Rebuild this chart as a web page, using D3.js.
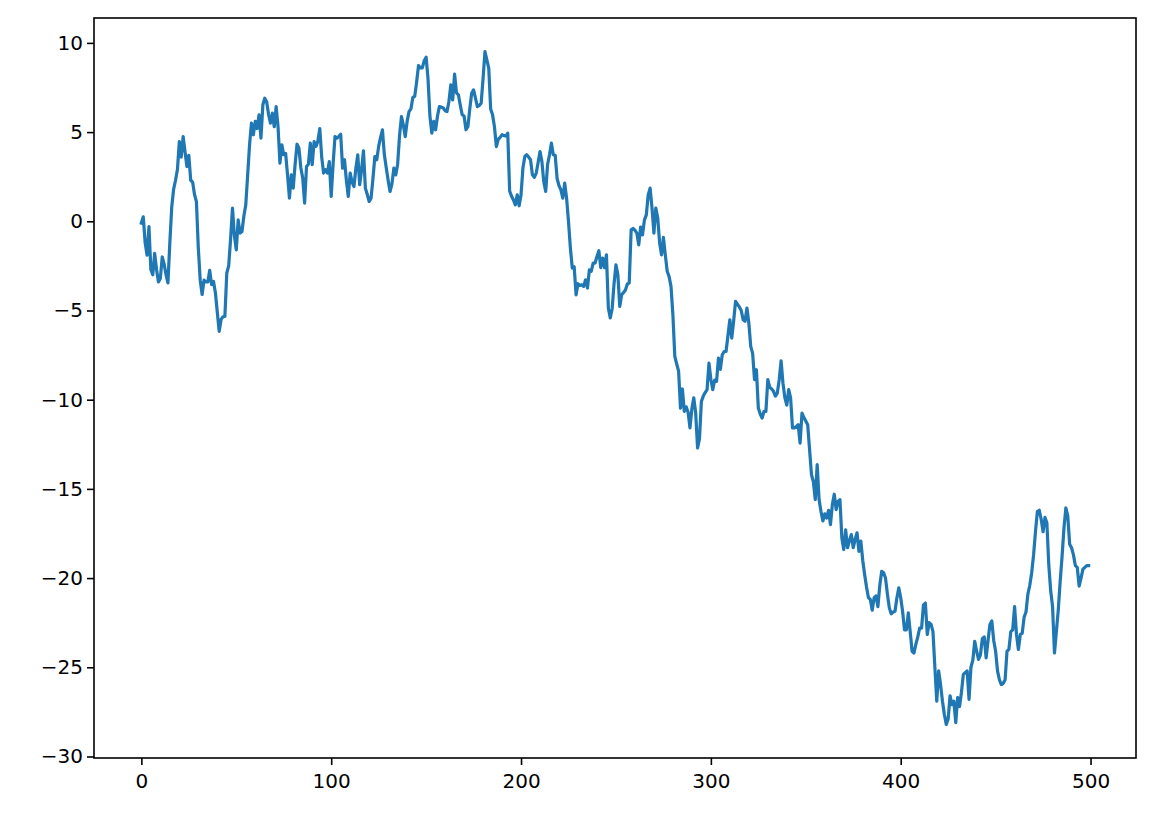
<!DOCTYPE html>
<html>
<head>
<meta charset="utf-8">
<script src="https://cdn.jsdelivr.net/npm/d3@7"></script>
<style>
  body { margin: 0; background: #fff; }
  svg { display: block; }
  .tick text { font-family: "DejaVu Sans", sans-serif; font-size: 20px; fill: #000; }
</style>
</head>
<body>
<div id="chart"></div>
<script>
// random walk values (index 0..499)
const walk = [
  -0.1, 0.25, -1.2, -1.9, -0.3, -2.7, -3.0, -1.8, -2.7, -3.4,
  -3.2, -2.0, -2.4, -3.0, -3.45, -1.2, 0.8, 1.8, 2.3, 2.9,
  4.47, 3.6, 4.75, 3.9, 3.07, 3.7, 2.3, 2.2, 1.5, 1.1,
  -1.5, -3.3, -4.1, -3.3, -3.4, -3.4, -2.75, -3.55, -3.37, -4.0,
  -5.1, -6.17, -5.5, -5.35, -5.33, -2.9, -2.5, -1.0, 0.74, -0.8,
  -1.6, 0.08, -0.66, -0.57, 0.3, 0.92, 2.6, 4.3, 5.5, 4.85,
  5.6, 5.2, 5.97, 4.66, 6.53, 6.9, 6.7, 6.0, 5.5, 6.06,
  5.3, 6.43, 5.3, 3.26, 4.29, 3.73, 3.8, 2.6, 1.3, 2.6,
  1.86, 3.2, 4.32, 4.1, 3.0, 2.42, 1.02, 3.07, 3.2, 4.38,
  3.17, 4.47, 4.2, 4.5, 5.2, 3.6, 2.7, 2.9, 2.7, 3.35,
  1.39, 3.2, 4.75, 4.66, 4.75, 4.88, 2.98, 3.45, 2.3, 1.39,
  2.7, 2.2, 1.95, 2.98, 3.73, 2.05, 2.9, 3.95, 1.86, 1.5,
  1.11, 1.3, 2.4, 3.63, 3.45, 4.2, 4.7, 5.13, 3.73, 3.0,
  2.3, 1.67, 2.1, 2.98, 2.6, 3.2, 4.8, 5.87, 5.4, 4.75,
  5.6, 6.15, 6.3, 6.94, 7.0, 7.8, 8.73, 8.6, 8.6, 9.0,
  9.2, 8.0, 5.9, 4.94, 5.6, 5.13, 5.9, 6.43, 6.4, 6.35,
  6.2, 6.15, 6.7, 7.65, 6.8, 8.25, 7.2, 7.09, 6.5, 5.97,
  5.9, 5.13, 5.3, 6.3, 7.18, 7.37, 6.9, 6.43, 6.5, 6.62,
  8.0, 9.51, 9.05, 8.58, 6.3, 5.97, 5.3, 4.19, 4.6, 4.7,
  4.85, 4.8, 4.78, 4.94, 1.7, 1.4, 1.2, 0.92, 1.48, 0.87,
  1.48, 3.0, 3.63, 3.73, 3.6, 3.45, 2.6, 2.46, 2.7, 3.3,
  3.91, 3.35, 2.2, 1.67, 3.2, 3.73, 4.38, 3.73, 3.7, 2.4,
  2.0, 1.76, 1.3, 2.14, 1.3, 0.0, -1.5, -2.62, -2.55, -4.12,
  -3.5, -3.6, -3.56, -3.65, -3.28, -3.74, -2.72, -2.8, -2.34, -2.34,
  -1.97, -1.65, -2.6, -2.06, -2.6, -1.88, -4.86, -5.42, -4.9, -3.5,
  -2.44, -2.98, -4.77, -4.12, -4.0, -3.85, -3.52, -3.45, -0.48, -0.4,
  -0.5, -0.66, -1.32, -0.32, -0.76, 0.08, 0.36, 1.48, 1.86, 0.74,
  -0.66, 0.74, 0.2, -1.2, -1.88, -0.9, -1.88, -2.8, -3.1, -3.65,
  -5.24, -7.57, -8.0, -8.4, -10.47, -9.4, -10.65, -10.4, -10.7, -11.58,
  -10.5, -9.9, -10.75, -12.7, -12.2, -10.1, -9.8, -9.6, -9.44, -7.95,
  -8.85, -9.44, -8.9, -8.97, -7.67, -8.3, -7.48, -7.3, -7.3, -6.4,
  -5.52, -6.55, -5.6, -4.49, -4.65, -4.8, -5.0, -5.52, -5.6, -4.86,
  -5.7, -7.01, -7.4, -8.88, -8.32, -10.47, -10.8, -11.03, -10.65, -10.65,
  -8.88, -9.3, -9.4, -9.53, -9.8, -9.63, -8.88, -7.82, -9.1, -9.9,
  -10.3, -9.44, -9.9, -11.58, -11.58, -11.5, -11.4, -12.43, -10.75, -11.0,
  -11.2, -11.4, -12.8, -14.2, -14.6, -15.6, -13.64, -15.6, -16.26, -16.8,
  -16.4, -16.63, -16.2, -17.0, -15.88, -15.3, -16.16, -15.7, -15.6, -17.75,
  -18.4, -17.3, -18.3, -17.9, -17.56, -18.3, -17.84, -17.46, -18.5, -17.93,
  -19.0, -19.8, -20.5, -21.1, -21.2, -21.8, -21.1, -21.0, -21.6, -20.4,
  -19.62, -19.7, -20.0, -20.9, -21.67, -22.0, -21.9, -21.86, -21.1, -20.55,
  -21.1, -21.86, -22.9, -22.9, -21.95, -23.0, -24.1, -24.2, -23.7, -23.3,
  -22.8, -22.8, -21.5, -21.4, -23.16, -22.5, -22.6, -23.0, -25.0, -26.9,
  -25.2, -25.97, -26.9, -27.65, -28.2, -27.9, -26.6, -27.1, -26.9, -28.1,
  -26.7, -27.2, -26.4, -25.4, -25.3, -25.2, -26.8, -25.0, -24.6, -23.54,
  -24.1, -24.56, -24.3, -23.4, -23.3, -24.47, -23.5, -22.6, -22.4, -23.5,
  -24.1, -25.2, -25.7, -25.97, -25.9, -25.7, -24.1, -24.0, -23.0, -22.9,
  -21.6, -23.16, -24.0, -23.16, -23.1, -22.2, -21.9, -20.9, -20.4, -19.7,
  -18.7, -17.4, -16.26, -16.2, -16.7, -17.4, -16.6, -16.9, -19.25, -20.7,
  -21.6, -24.2, -23.0, -21.8, -20.2, -18.8, -17.2, -16.07, -16.5, -18.1,
  -18.3, -18.7, -19.3, -19.4, -20.45, -20.0, -19.5, -19.4, -19.3, -19.3
];
const xTicks = [0, 100, 200, 300, 400, 500];
const yTicks = [-30, -25, -20, -15, -10, -5, 0, 5, 10];

const width = 1154;
const height = 822;
const plot = {left: 94, right: 1136, top: 18, bottom: 758};

const svg = d3.select("#chart")
  .append("svg")
  .attr("width", width)
  .attr("height", height);

// matplotlib style 5% margins around the data
const n = walk.length;
const xPad = (n - 1) * 0.05;
const yMin = d3.min(walk), yMax = d3.max(walk);
const yPad = (yMax - yMin) * 0.05;

const x = d3.scaleLinear()
  .domain([-xPad, n - 1 + xPad])
  .range([plot.left, plot.right]);
const y = d3.scaleLinear()
  .domain([yMin - yPad, yMax + yPad])
  .range([plot.bottom, plot.top]);

const line = d3.line()
  .x((d, i) => x(i))
  .y(d => y(d));

svg.append("path")
  .datum(walk)
  .attr("fill", "none")
  .attr("stroke", "#1f77b4")
  .attr("stroke-width", 3.2)
  .attr("stroke-linejoin", "round")
  .attr("stroke-linecap", "square")
  .attr("d", line);

// axes
const xAxis = svg.append("g")
  .attr("transform", `translate(0,${plot.bottom})`)
  .call(d3.axisBottom(x).tickValues(xTicks).tickSize(7).tickPadding(9).tickSizeOuter(0));
const yAxis = svg.append("g")
  .attr("transform", `translate(${plot.left},0)`)
  .call(d3.axisLeft(y).tickValues(yTicks).tickSize(7).tickPadding(4).tickSizeOuter(0));

[xAxis, yAxis].forEach(a => {
  a.select(".domain").remove();
  a.selectAll(".tick line").attr("stroke", "#000").attr("stroke-width", 1.6);
  a.attr("font-family", null).attr("font-size", null);
});

// spines
svg.append("rect")
  .attr("x", plot.left)
  .attr("y", plot.top)
  .attr("width", plot.right - plot.left)
  .attr("height", plot.bottom - plot.top)
  .attr("fill", "none")
  .attr("stroke", "#000")
  .attr("stroke-width", 1.6);
</script>
</body>
</html>
